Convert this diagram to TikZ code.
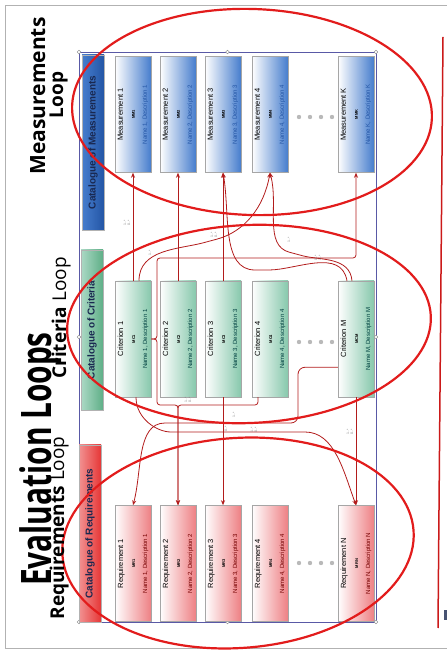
\documentclass[tikz,border=0pt]{standalone}
\usepackage{fontspec}
\setmainfont{Liberation Sans}
\newfontfamily\titlefont[FakeStretch=0.71]{Open Sans}
\newfontfamily\loopfont{Open Sans}
\usetikzlibrary{arrows.meta}

\definecolor{mblue}{RGB}{70,125,205}
\definecolor{hblue}{RGB}{35,85,165}
\definecolor{cgreen}{RGB}{135,200,172}
\definecolor{hgreen}{RGB}{95,175,135}
\definecolor{rpink}{RGB}{238,128,132}
\definecolor{hred}{RGB}{230,55,55}
\definecolor{ringred}{RGB}{226,28,28}
\definecolor{linkred}{RGB}{178,28,28}
\definecolor{navy}{RGB}{25,40,80}

\newcommand{\boxlines}[4]{{\fontsize{7.5}{10}\selectfont #1}\\{\fontsize{4}{10}\selectfont\bfseries #2}\\{\fontsize{6}{10}\selectfont\color{#4}#3}}

\tikzset{
  box/.style={draw=gray!70,line width=0.5pt,rotate=90,minimum width=116pt,minimum height=36pt,inner sep=0pt,align=center},
  mbox/.style={box,left color=white,right color=mblue},
  cbox/.style={box,left color=white,right color=cgreen},
  rbox/.style={box,left color=white,right color=rpink},
  head/.style={draw=gray!60,rotate=90,minimum height=22pt,inner sep=0pt,text=navy,font=\bfseries\fontsize{10}{12}\selectfont},
  link/.style={draw=linkred,line width=0.8pt,rounded corners=7pt,-{Stealth[length=5pt,width=4pt]}},
  ring/.style={draw=ringred,line width=2.2pt},
  mult/.style={rotate=90,text=gray,font=\fontsize{3.5}{4}\selectfont,inner sep=0pt,align=center},
  looptext/.style={rotate=90,anchor=base,inner sep=0pt,font=\loopfont\fontsize{19}{21}\selectfont}
}

\begin{document}
\begin{tikzpicture}[x=1pt,y=1pt]
\useasboundingbox (0,0) rectangle (447,654);

% page edge
\draw[gray!60,line width=0.8pt] (447,649) -- (5,649) -- (5,6) -- (447,6);
\draw[ringred!90!black,line width=1.5pt] (443,617) -- (438,26);
\fill[navy!80] (444,34) rectangle (447,44);

% canvas
\draw[blue!30!gray,line width=0.4pt] (79,32) rectangle (376,602);
\foreach \p in {(79,32),(79,317),(79,602),(227.5,32),(227.5,602),(376,32),(376,317),(376,602)}
  \filldraw[fill=white,draw=gray,line width=0.3pt] \p circle (1.8);

\node[head,minimum width=175pt,left color=mblue,right color=hblue] (mcat) at (93,511.5) {Catalogue of Measurements};
\node[head,minimum width=160pt,left color=cgreen!70,right color=hgreen] (ccat) at (92,324) {Catalogue of Criteria};
\node[head,minimum width=177pt,left color=hred!55,right color=hred] (rcat) at (90,120.5) {Catalogue of Requirements};

\node[mbox] (m1) at (133,539.5) {\boxlines{Measurement 1}{MM1}{Name 1, Description 1}{hblue}};
\node[mbox] (m2) at (178,539.5) {\boxlines{Measurement 2}{MM2}{Name 2, Description 2}{hblue}};
\node[mbox] (m3) at (223,539.5) {\boxlines{Measurement 3}{MM3}{Name 3, Description 3}{hblue}};
\node[mbox] (m4) at (270,539.5) {\boxlines{Measurement 4}{MM4}{Name 4, Description 4}{hblue}};
\node[mbox] (mk) at (356,539.5) {\boxlines{Measurement K}{MMK}{Name K, Description K}{hblue}};

\node[cbox] (c1) at (133,315) {\boxlines{Criterion 1}{MC1}{Name 1, Description 1}{teal!50!black}};
\node[cbox] (c2) at (178,315) {\boxlines{Criterion 2}{MC2}{Name 2, Description 2}{teal!50!black}};
\node[cbox] (c3) at (223,315) {\boxlines{Criterion 3}{MC3}{Name 3, Description 3}{teal!50!black}};
\node[cbox] (c4) at (270,315) {\boxlines{Criterion 4}{MC4}{Name 4, Description 4}{teal!50!black}};
\node[cbox] (cm) at (356,315) {\boxlines{Criterion M}{MCM}{Name M, Description M}{teal!50!black}};

\node[rbox] (r1) at (133,90.5) {\boxlines{Requirement 1}{MR1}{Name 1, Description 1}{red!45!black}};
\node[rbox] (r2) at (178,90.5) {\boxlines{Requirement 2}{MR2}{Name 2, Description 2}{red!45!black}};
\node[rbox] (r3) at (223,90.5) {\boxlines{Requirement 3}{MR3}{Name 3, Description 3}{red!45!black}};
\node[rbox] (r4) at (270,90.5) {\boxlines{Requirement 4}{MR4}{Name 4, Description 4}{red!45!black}};
\node[rbox] (rn) at (356,90.5) {\boxlines{Requirement N}{MRN}{Name N, Description N}{red!45!black}};

\foreach \y in {537,312,91}
  \foreach \x in {299,310,321,332}
    \fill[gray!55] (\x,\y) circle (2.2);

% criteria -> measurements
\coordinate (upbus) at (157,396);
\draw[link] (c1.east) -- (m1.west);
\draw[link] (c2.east) -- (m2.west);
\draw[link] (c3.east) -- (m3.west);
\draw[link,rounded corners=3pt] (c1.south) -| (upbus) -| (mk.west);
\draw[link] ([xshift=6pt]c1.east) to[out=90,in=195] (210,413) to[out=15,in=-100] (m4.west);
\draw[link] ([xshift=-4pt]cm.east) to[out=95,in=-15] (296,400) to[out=165,in=-75] (m4.west);
\draw[link] ([xshift=-9pt]cm.east) to[out=100,in=0] (262,384) to[out=180,in=-80] (m3.west);

% criteria -> requirements
\coordinate (lowbus) at (157,249);
\draw[link] (c3.west) -- (r3.east);
\draw[link] (cm.west) -- (rn.east);
\draw[link,rounded corners=3pt] (c1.south) -| (lowbus) -| (r2.east);
\draw[link,rounded corners=3pt] ([xshift=-12pt]c4.west) |- (r2.east |- lowbus) -- (r2.east);
\draw[link] ([yshift=30pt]cm.north west) -| (298,231) -- (172,231) to[out=180,in=75] (r1.east);
\draw[link] ([xshift=3pt]c1.west) to[out=-90,in=180] (178,222) -- (298,222) to[out=0,in=110] (rn.east);

\node[mult] (u1) at (127,431) {1..*\\0..*};
\node[mult] (u2) at (150,401) {1..*};
\node[mult] (u3) at (214,419) {1..*\\0..*};
\node[mult] (u4) at (289,414) {1..*};
\node[mult] (u5) at (318,396) {0..*\\1..*};
\node[mult] (l1) at (188,254) {1..*\\0..*};
\node[mult] (l2) at (234,239) {1..*};
\node[mult] (l3) at (226,225) {0..*};
\node[mult] (l4) at (254,224) {1..*\\0..*};
\node[mult] (l5) at (350,222) {1..*\\0..*};

% loops
\draw[ring,rotate around={-2:(252,542)}] (252,542) ellipse [x radius=180,y radius=103];
\draw[ring,rotate around={2.5:(249,330)}] (249,330) ellipse [x radius=182,y radius=99];
\draw[ring,rotate around={4:(238,111)}] (238,111) ellipse [x radius=176,y radius=105];

\node[rotate=90,anchor=base,inner sep=0pt,font=\titlefont\bfseries\fontsize{42}{46}\selectfont] (title) at (51,195) {Evaluation Loops};
\node[looptext] (rloop) at (64,126) {\textbf{Requirements} Loop};
\node[looptext] (cloop) at (66,336) {\textbf{Criteria} Loop};
\node[looptext,font=\loopfont\fontsize{21}{23}\selectfont] (mword) at (45,558) {\textbf{Measurements}};
\node[looptext] (mloop) at (63,559) {\textbf{Loop}};
\end{tikzpicture}
\end{document}
